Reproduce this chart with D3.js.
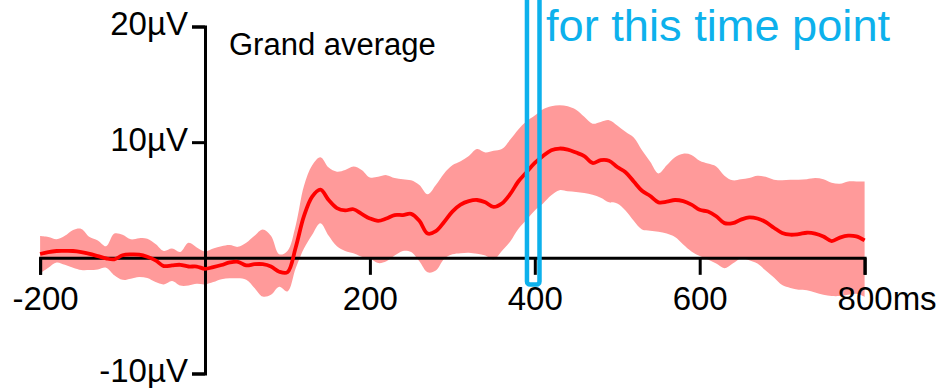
<!DOCTYPE html>
<html>
<head>
<meta charset="utf-8">
<script src="https://cdn.jsdelivr.net/npm/d3@7"></script>
<style>
  html, body { margin: 0; padding: 0; background: #fff; }
  svg { display: block; }
  text { font-family: "Liberation Sans", Arial, Helvetica, sans-serif; }
</style>
</head>
<body>
<svg id="chart" width="944" height="388"></svg>
<script>
// Sample times (ms), 10 ms steps from -200 to 800
const times = d3.range(-200, 801, 10);

// Grand-average ERP (µV)
const meanVals = [
  0.33, 0.5, 0.59, 0.6, 0.59, 0.5, 0.35, 0.15, -0.05, -0.13,
  0.22, 0.3, 0.28, 0.1, -0.22, -0.71, -0.65, -0.6, -0.75, -0.75,
  -0.95, -0.8, -0.62, -0.4, -0.34, -0.65, -0.55, -0.55, -0.75, -1.2,
  -1.25, 0.9, 3.6, 5.3, 5.9, 5.0, 4.3, 4.1, 4.2, 3.8,
  3.4, 3.2, 3.4, 3.7, 3.7, 3.8, 3.2, 2.1, 2.3, 3.1,
  4.0, 4.6, 4.9, 5.0, 4.8, 4.4, 4.7, 5.5, 6.6, 7.4,
  8.2, 8.8, 9.3, 9.45, 9.35, 9.1, 8.8, 8.2, 8.45, 8.4,
  7.85, 7.4, 6.6, 5.8, 5.35, 4.8, 4.85, 5.0, 4.9, 4.6,
  4.15, 4.0, 3.6, 3.0, 3.0, 3.3, 3.5, 3.4, 3.1, 2.6,
  2.15, 2.0, 2.05, 2.17, 2.1, 1.85, 1.45, 1.75, 1.92, 1.85,
  1.5
];

// Upper edge of the confidence band (µV)
const upperVals = [
  1.88, 1.8, 1.6, 1.9, 2.4, 2.5, 1.8, 1.5, 1.0, 2.1,
  2.0, 1.6, 1.7, 1.65, 1.2, 0.6, 0.8, 0.5, 1.3, 0.9,
  0.55, 0.8, 1.0, 1.1, 0.95, 1.3, 1.9, 2.45, 1.9, 0.3,
  0.6, 2.8, 6.2, 8.0, 8.7, 7.8, 7.45, 7.6, 7.9, 7.6,
  6.95, 7.0, 7.15, 6.9, 6.8, 6.7, 6.3, 5.5, 6.3, 7.3,
  8.0, 8.35, 8.8, 9.4, 9.1, 9.25, 9.4, 10.2, 11.1, 11.8,
  12.3, 12.85, 13.1, 13.2, 13.1, 12.8, 12.2, 11.6, 11.75, 11.9,
  11.45, 10.9, 10.4, 9.3, 8.3, 7.3, 8.0, 8.7, 9.0, 8.9,
  8.4, 8.15, 7.9, 7.1, 6.7, 6.8, 6.9, 7.1, 7.0, 6.75,
  6.7, 6.75, 6.75, 6.8, 6.9, 6.8, 6.5, 6.4, 6.6, 6.6,
  6.6
];

// Lower edge of the confidence band (µV)
const lowerVals = [
  -1.34, -0.85, -0.4, -0.6, -0.85, -1.05, -1.05, -1.0, -0.85, -1.5,
  -1.9, -1.8, -1.65, -1.75, -2.1, -2.3, -2.0, -2.4, -2.4, -2.25,
  -2.3, -2.1, -1.85, -1.77, -1.77, -1.9, -2.6, -3.35, -3.2, -2.5,
  -2.9, -0.9, 0.8, 2.0, 3.0, 1.9, 1.0, 0.6, 0.4, 0.1,
  -0.05, -0.45, -0.3, 0.2, 0.6, 0.5, -0.3, -1.25, -1.1, -0.1,
  0.3, 0.4, 0.44, 0.35, 0.2, -0.15, 0.6, 1.4, 2.5, 3.3,
  4.1, 4.7, 5.4, 5.85, 5.75, 5.7, 5.6, 5.45, 5.2, 4.8,
  4.7, 4.1, 3.2, 2.45, 2.35, 2.25, 2.1, 1.8, 1.15, 0.55,
  0.15, -0.15, -0.5, -0.9, -0.5, -0.05, -0.2, -0.5, -1.1, -1.7,
  -2.35, -2.6, -2.75, -2.8, -3.0, -3.2, -3.3, -3.3, -3.2, -3.1,
  -3.36
];

// Axis ticks
const xTicks = [-200, 200, 400, 600, 800];
const yTicks = [20, 10, -10];

// Highlighted time window (ms) and annotation text
const highlightWindow = [390.5, 405.7];
const annotation = "for this time point";
const title = "Grand average";

const svg = d3.select("#chart");

const x = d3.scaleLinear().domain([-200, 800]).range([40.1, 864.6]);
const y = d3.scaleLinear().domain([-10, 20]).range([373.5, 26.5]);

const rows = times.map((t, i) => ({ t, m: meanVals[i], hi: upperVals[i], lo: lowerVals[i] }));
const curve = d3.curveCatmullRom.alpha(0.5);

// Confidence band
svg.append("path")
  .datum(rows)
  .attr("fill", "#ff9a9a")
  .attr("d", d3.area().curve(curve)
    .x(d => x(d.t)).y0(d => y(d.lo)).y1(d => y(d.hi)));

// X axis through 0 µV
const xAxis = svg.append("g")
  .attr("transform", `translate(0,${y(0)})`)
  .call(d3.axisBottom(x).tickValues(xTicks).tickSize(17).tickSizeOuter(17)
    .tickFormat(d => d === 800 ? "800ms" : String(d)));

// Y axis through 0 ms
const yAxis = svg.append("g")
  .attr("transform", `translate(${x(0)},0)`)
  .call(d3.axisLeft(y).tickValues(yTicks).tickSize(13).tickSizeOuter(13).tickPadding(4)
    .tickFormat(d => d + "µV"));

[xAxis, yAxis].forEach(g => {
  g.selectAll("path, line").attr("stroke", "#000").attr("stroke-width", 3);
  g.selectAll("text").attr("fill", "#000").attr("font-size", 33)
    .attr("font-family", "'Liberation Sans', Arial, Helvetica, sans-serif");
});

yAxis.selectAll("text").attr("dy", "0.25em");

xAxis.selectAll("text").attr("y", 52).attr("dy", null)
  .each(function(d) {
    const el = d3.select(this);
    if (d === 800) {
      // keep the number centred on its tick, unit hangs to the right
      const full = this.getComputedTextLength();
      el.text("800");
      const num = this.getComputedTextLength();
      el.text("800ms").attr("dx", (full - num) / 2);
    } else if (d === -200) {
      el.attr("dx", 5);
    }
  });

// Grand-average waveform
svg.append("path")
  .datum(rows)
  .attr("fill", "none")
  .attr("stroke", "#ff0000")
  .attr("stroke-width", 3.8)
  .attr("stroke-linejoin", "round")
  .attr("d", d3.line().curve(curve).x(d => x(d.t)).y(d => y(d.m)));

// Highlighted time window
const blue = "#0db1ec";
svg.append("rect")
  .attr("x", x(highlightWindow[0]))
  .attr("width", x(highlightWindow[1]) - x(highlightWindow[0]))
  .attr("y", -20)
  .attr("height", y(-2.3) + 20)
  .attr("rx", 3)
  .attr("fill", "none")
  .attr("stroke", blue)
  .attr("stroke-width", 4.5);

svg.append("text")
  .attr("x", 546)
  .attr("y", 41)
  .attr("font-size", 45.2)
  .attr("fill", blue)
  .text(annotation);

svg.append("text")
  .attr("x", 229)
  .attr("y", 55)
  .attr("font-size", 31)
  .attr("fill", "#000")
  .text(title);
</script>
</body>
</html>
